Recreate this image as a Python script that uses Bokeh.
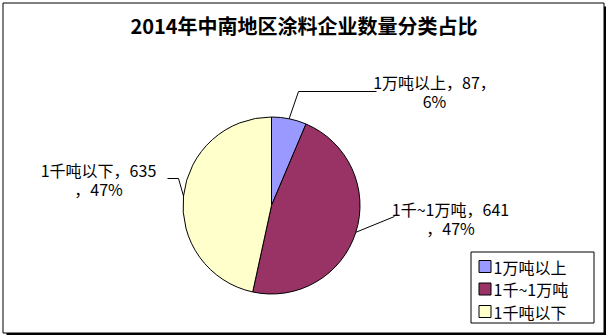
import math
from bokeh.plotting import figure
from bokeh.models import Range1d
from bokeh.core.properties import value
from bokeh.embed import file_html
from bokeh.resources import INLINE

# ---- data ----
title_text = "2014年中南地区涂料企业数量分类占比"
categories = ["1万吨以上", "1千~1万吨", "1千吨以下"]
counts = [87, 641, 635]
colors = ["#9999FF", "#993366", "#FFFFCC"]

W, H = 607, 336
FONT = value("Noto Sans CJK SC")


def Y(y):
    return H - y


p = figure(width=W, height=H, x_range=Range1d(0, W), y_range=Range1d(0, H),
           output_backend="svg", toolbar_location=None, min_border=0)
p.axis.visible = False
p.grid.visible = False
p.outline_line_color = None
p.background_fill_color = "white"
p.border_fill_color = "white"

# outer frame with shadow
p.quad(left=[2.5], right=[603.5], top=[Y(2.5)], bottom=[Y(332.5)],
       fill_color=None, line_color="black", line_width=1)
p.quad(left=[603.5], right=[605.5], top=[Y(6)], bottom=[Y(334.5)],
       fill_color="black", line_color=None)
p.quad(left=[6], right=[605.5], top=[Y(332.5)], bottom=[Y(334.5)],
       fill_color="black", line_color=None)

# title
p.text(x=[303.5], y=[Y(25)], text=[title_text], text_font=FONT,
       text_font_size="20px", text_font_style="bold", text_align="center",
       text_baseline="middle", text_color="black")

# pie
cx, cy, r = 271, 205, 88.5
total = sum(counts)
fracs = [c / total for c in counts]
cum = [0.0]
for f in fracs:
    cum.append(cum[-1] + f)
starts = [math.pi / 2 - 2 * math.pi * cum[i] for i in range(len(counts))]
ends = [math.pi / 2 - 2 * math.pi * cum[i + 1] for i in range(len(counts))]
p.wedge(x=[cx] * len(counts), y=[Y(cy)] * len(counts), radius=r,
        start_angle=starts, end_angle=ends, direction="clock",
        fill_color=colors, line_color="black", line_width=1)

# data labels with leader lines
pcts = [round(100 * c / total) for c in counts]
label_lines = [
    [f"{categories[0]}，{counts[0]}，", f"{pcts[0]}%"],
    [f"{categories[1]}，{counts[1]}", f"，{pcts[1]}%"],
    [f"{categories[2]}，{counts[2]}", f"，{pcts[2]}%"],
]
label_centers = [(434, 81), (450, 208), (98, 169)]
elbows = [[(298, 91), (376, 91)], [(394, 216)], [(178, 178), (167, 178)]]
line_gap = 19

for i in range(len(counts)):
    mid = (cum[i] + cum[i + 1]) / 2 * 2 * math.pi
    ex = cx + r * math.sin(mid)
    ey = cy - r * math.cos(mid)
    pts = [(ex, ey)] + elbows[i]
    p.line(x=[q[0] for q in pts], y=[Y(q[1]) for q in pts],
           line_color="black", line_width=1)
    lx, ly = label_centers[i]
    for j, t in enumerate(label_lines[i]):
        p.text(x=[lx], y=[Y(ly + j * line_gap)], text=[t], text_font=FONT,
               text_font_size="16px", text_align="center",
               text_baseline="middle", text_color="black")

# legend
p.quad(left=[470.5], right=[593.5], top=[Y(251.5)], bottom=[Y(322.5)],
       fill_color="white", line_color="black", line_width=1)
leg_y = [266, 288.5, 311]
p.rect(x=[484.5] * 3, y=[Y(v) for v in leg_y], width=12, height=12,
       fill_color=colors, line_color="black", line_width=1)
p.text(x=[493] * 3, y=[Y(v) for v in leg_y], text=categories, text_font=FONT,
       text_font_size="16px", text_align="left", text_baseline="middle",
       text_color="black")

open("out.html", "w").write(file_html(p, INLINE))
